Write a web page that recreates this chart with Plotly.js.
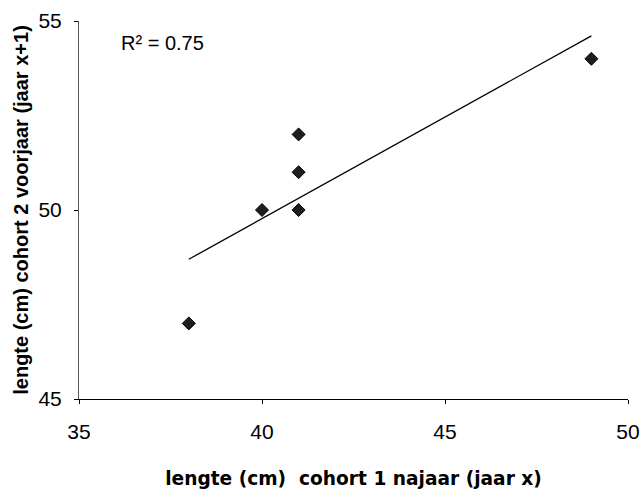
<!DOCTYPE html>
<html>
<head>
<meta charset="utf-8">
<script src="https://cdn.plot.ly/plotly-3.0.1.min.js"></script>
<style>html,body{margin:0;padding:0;background:#fff;}#chart{width:640px;height:489px;}</style>
</head>
<body>
<div id="chart"></div>
<script>
// Data
const lengthCohort1Autumn = [38, 40, 41, 41, 41, 49];   // x: lengte cohort 1 najaar (jaar x)
const lengthCohort2Spring = [47, 50, 50, 51, 52, 54];   // y: lengte cohort 2 voorjaar (jaar x+1)
const xTickVals = [35, 40, 45, 50];
const yTickVals = [45, 50, 55];
const r2Label = 'R\u00B2 = 0.75';
const xTitle = 'lengte (cm)  cohort 1 najaar (jaar x)';
const yTitle = 'lengte (cm) cohort 2 voorjaar (jaar x+1)';

// Least-squares trendline derived from the data
const n = lengthCohort1Autumn.length;
const mx = lengthCohort1Autumn.reduce((a, b) => a + b, 0) / n;
const my = lengthCohort2Spring.reduce((a, b) => a + b, 0) / n;
let sxy = 0, sxx = 0;
for (let i = 0; i < n; i++) {
  sxy += (lengthCohort1Autumn[i] - mx) * (lengthCohort2Spring[i] - my);
  sxx += (lengthCohort1Autumn[i] - mx) ** 2;
}
const slope = sxy / sxx;
const intercept = my - slope * mx;
const xMin = Math.min(...lengthCohort1Autumn), xMax = Math.max(...lengthCohort1Autumn);
const trendX = [xMin, xMax];
const trendY = trendX.map(v => intercept + slope * v);

const traces = [
  {
    x: trendX, y: trendY, type: 'scatter', mode: 'lines',
    line: {color: '#000', width: 1.3}, hoverinfo: 'skip', showlegend: false
  },
  {
    x: lengthCohort1Autumn, y: lengthCohort2Spring, type: 'scatter', mode: 'markers',
    marker: {symbol: 'diamond', size: 10, color: '#1e1e1e', line: {color: '#000', width: 1}},
    showlegend: false
  }
];

const tickFont = {family: 'Liberation Sans, Arial, sans-serif', size: 21, color: '#000'};

const layout = {
  width: 640, height: 489,
  margin: {l: 79, r: 12, t: 21, b: 90, pad: 0},
  paper_bgcolor: '#fff', plot_bgcolor: '#fff',
  showlegend: false,
  xaxis: {
    range: [35, 50], tickvals: xTickVals, ticktext: xTickVals.map(String),
    showgrid: false, zeroline: false, showline: true, linecolor: '#000', linewidth: 1,
    ticks: 'outside', ticklen: 4, tickcolor: '#000', tickwidth: 1,
    tickfont: tickFont, ticklabelstandoff: 10,
    title: {text: xTitle, font: {family: 'DejaVu Sans, sans-serif', size: 18.6, color: '#000', weight: 'bold'}, standoff: 30},
    automargin: false
  },
  yaxis: {
    range: [45, 55], tickvals: yTickVals, ticktext: yTickVals.map(String),
    showgrid: false, zeroline: false, showline: true, linecolor: '#555', linewidth: 1,
    ticks: 'outside', ticklen: 4, tickcolor: '#000', tickwidth: 1,
    tickfont: tickFont, ticklabelstandoff: 8,
    title: {text: yTitle, font: {family: 'Liberation Sans, Arial, sans-serif', size: 20, color: '#000', weight: 'bold'}, standoff: 4},
    automargin: false
  },
  annotations: [{
    x: 36.1, y: 54.42, xref: 'x', yref: 'y', xanchor: 'left', yanchor: 'middle',
    text: r2Label, showarrow: false,
    font: {family: 'Liberation Sans, Arial, sans-serif', size: 20, color: '#000'}
  }]
};

Plotly.newPlot('chart', traces, layout, {displayModeBar: false, staticPlot: true});
</script>
</body>
</html>
